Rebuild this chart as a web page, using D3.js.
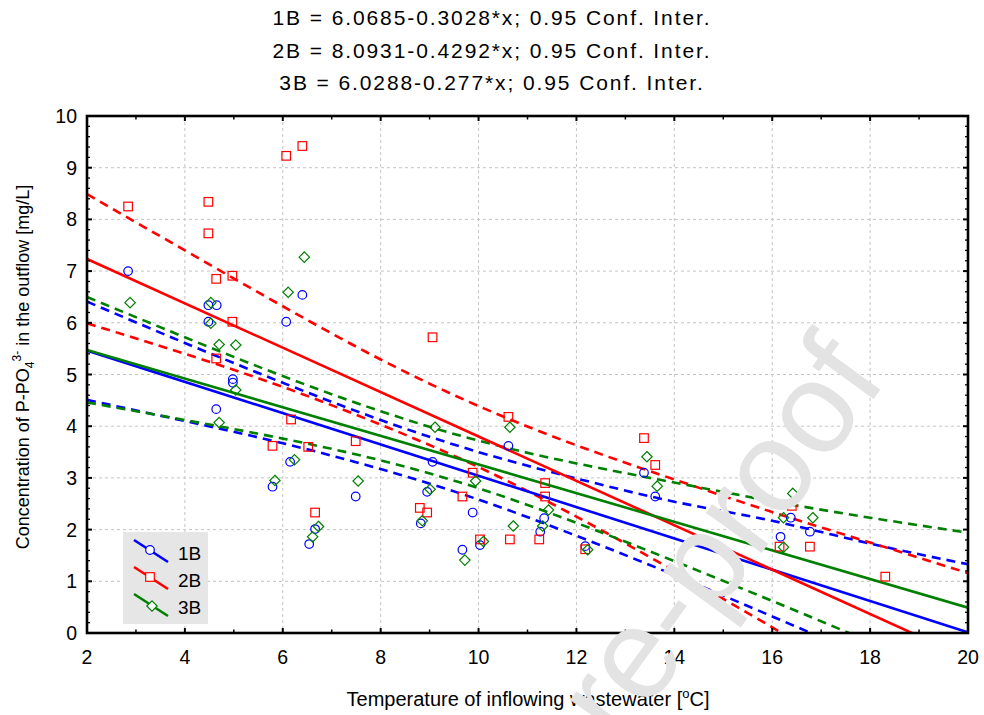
<!DOCTYPE html>
<html><head><meta charset="utf-8">
<script src="https://cdn.jsdelivr.net/npm/d3@7/dist/d3.min.js"></script>
<style>
html,body{margin:0;padding:0;background:#fff;}
svg{display:block;font-family:"Liberation Sans",Arial,sans-serif;}
</style></head>
<body><svg id="c" width="984" height="715"></svg>
<script>
// ---- data ----
const seriesNames = ["1B","2B","3B"];
const seriesColors = ["#0000ff","#ff0000","#008000"];
const intercepts = [6.0685, 8.0931, 6.0288];
const slopes = [-0.3028, -0.4292, -0.277];
const titleLines = [
  "1B = 6.0685-0.3028*x; 0.95 Conf. Inter.",
  "2B = 8.0931-0.4292*x; 0.95 Conf. Inter.",
  "3B = 6.0288-0.277*x; 0.95 Conf. Inter."
];
const xTicks = [2,4,6,8,10,12,14,16,18,20];
const yTicks = [0,1,2,3,4,5,6,7,8,9,10];

const points1B = [[2.84,7.00],[4.48,6.34],[4.65,6.34],[4.48,6.02],[4.98,4.91],[4.98,4.84],[4.64,4.33],[6.07,6.02],[6.40,6.54],[5.79,2.83],[6.54,1.72],[6.15,3.31],[6.66,2.01],[7.49,2.64],[8.82,2.12],[8.95,2.73],[9.06,3.31],[9.67,1.61],[9.88,2.33],[10.03,1.70],[10.61,3.62],[11.26,1.96],[11.34,2.22],[12.18,1.68],[13.38,3.10],[13.61,2.64],[16.17,1.86],[16.38,2.23],[16.77,1.96]];
const points2B = [[2.84,8.25],[4.48,8.34],[4.48,7.73],[4.64,6.85],[4.97,6.91],[6.07,9.23],[6.40,9.42],[4.97,6.02],[4.64,5.31],[6.17,4.13],[5.79,3.62],[6.52,3.60],[9.06,5.72],[7.49,3.71],[9.88,3.10],[10.61,4.18],[6.66,2.33],[8.80,2.42],[8.95,2.33],[9.67,2.64],[10.03,1.81],[10.64,1.81],[11.24,1.81],[11.36,2.90],[11.36,2.64],[12.18,1.62],[13.61,3.25],[13.38,3.77],[16.15,1.67],[16.77,1.67],[18.31,1.09],[16.40,2.46]];
const points3B = [[2.88,6.39],[4.53,6.39],[4.53,5.99],[4.70,5.58],[5.04,5.57],[5.04,4.70],[4.70,4.07],[6.11,6.59],[6.44,7.27],[6.24,3.35],[5.84,2.95],[6.61,1.86],[6.73,2.06],[7.54,2.94],[8.85,2.17],[9.01,2.78],[9.72,1.41],[9.94,2.94],[10.10,1.77],[10.71,2.07],[9.11,3.98],[10.64,3.98],[11.43,2.38],[11.31,2.07],[12.23,1.61],[13.65,2.84],[13.44,3.41],[16.23,2.23],[16.23,1.66],[16.83,2.23],[16.42,2.70]];

const bandX = [2,4,6,8,10,12,14,16,18,20];
const upper1B = [6.41,5.61,4.84,4.12,3.50,2.99,2.54,2.17,1.73,1.33];
const lower1B = [4.51,4.10,3.67,3.17,2.58,1.88,1.12,0.32,-0.49,-1.31];
const upper2B = [8.49,7.40,6.32,5.29,4.39,3.63,2.97,2.34,1.75,1.16];
const lower2B = [5.99,5.40,4.76,4.03,3.21,2.25,1.20,0.11,-1.01,-2.14];
const upper3B = [6.50,5.72,4.97,4.29,3.72,3.28,2.91,2.55,2.23,1.94];
const lower3B = [4.46,4.12,3.76,3.34,2.80,2.13,1.39,0.62,-0.17,-0.96];

const xTitle = "Temperature of inflowing wastewater [";
const watermark = "re-proof";

// ---- layout ----
const L=87, R=968, T=116, B=633;
const svg = d3.select("#c");
const x = d3.scaleLinear().domain([2,20]).range([L,R]);
const y = d3.scaleLinear().domain([0,10]).range([B,T]);

// grid
const g = svg.append("g");
g.selectAll(".gx").data(xTicks.slice(1,-1)).enter().append("line")
  .attr("x1",d=>x(d)).attr("x2",d=>x(d)).attr("y1",T).attr("y2",B)
  .attr("stroke","#c4c4c4").attr("stroke-width",1).attr("stroke-dasharray","3,3");
g.selectAll(".gy").data(yTicks.slice(1,-1)).enter().append("line")
  .attr("y1",d=>y(d)).attr("y2",d=>y(d)).attr("x1",L).attr("x2",R)
  .attr("stroke","#c4c4c4").attr("stroke-width",1).attr("stroke-dasharray","3,3");

svg.append("clipPath").attr("id","clip").append("rect")
  .attr("x",L).attr("y",T).attr("width",R-L).attr("height",B-T);
const plot = svg.append("g").attr("clip-path","url(#clip)");

const bands = [[upper1B,lower1B],[upper2B,lower2B],[upper3B,lower3B]];
const bandLine = d3.line().x(d=>x(d[0])).y(d=>y(d[1])).curve(d3.curveNatural);

seriesNames.forEach((s,i)=>{
  bands[i].forEach(arr=>{
    plot.append("path").datum(bandX.map((bx,j)=>[bx,arr[j]]))
      .attr("d",bandLine).attr("fill","none").attr("stroke",seriesColors[i])
      .attr("stroke-width",2.6).attr("stroke-dasharray","9,6");
  });
});
seriesNames.forEach((s,i)=>{
  const f = xv => intercepts[i] + slopes[i]*xv;
  plot.append("line").attr("x1",x(2)).attr("y1",y(f(2))).attr("x2",x(20)).attr("y2",y(f(20)))
    .attr("stroke",seriesColors[i]).attr("stroke-width",2.6);
});

function marker(sel, i){
  if(i===0) return sel.append("circle").attr("r",4.3);
  if(i===1) return sel.append("rect").attr("x",-4.3).attr("y",-4.3).attr("width",8.6).attr("height",8.6);
  return sel.append("path").attr("d","M0,-5.2L5.2,0L0,5.2L-5.2,0Z");
}
const pts = [points1B, points2B, points3B];
pts.forEach((arr,i)=>{
  arr.forEach(p=>{
    const m = plot.append("g").attr("transform",`translate(${x(p[0])},${y(p[1])})`);
    marker(m,i).attr("fill","none").attr("stroke",seriesColors[i]).attr("stroke-width",1.2);
  });
});

// frame and ticks
const axG = svg.append("g");
axG.append("rect").attr("x",L).attr("y",T).attr("width",R-L).attr("height",B-T)
  .attr("fill","none").attr("stroke","#000").attr("stroke-width",2.6);
const xMinor = d3.range(3,20,2);
const yMinor = d3.range(0,10.001,0.2).filter(v=>Math.abs(v-Math.round(v))>1e-6);
[[B,-1],[T,1]].forEach(([yy,dir])=>{
  xTicks.forEach(v=>axG.append("line").attr("x1",x(v)).attr("x2",x(v)).attr("y1",yy).attr("y2",yy+dir*5).attr("stroke","#000").attr("stroke-width",2));
  xMinor.forEach(v=>axG.append("line").attr("x1",x(v)).attr("x2",x(v)).attr("y1",yy).attr("y2",yy+dir*3.5).attr("stroke","#000").attr("stroke-width",1.5));
});
[[L,1],[R,-1]].forEach(([xx,dir])=>{
  yTicks.forEach(v=>axG.append("line").attr("y1",y(v)).attr("y2",y(v)).attr("x1",xx).attr("x2",xx+dir*5).attr("stroke","#000").attr("stroke-width",2));
  yMinor.forEach(v=>axG.append("line").attr("y1",y(v)).attr("y2",y(v)).attr("x1",xx).attr("x2",xx+dir*3).attr("stroke","#000").attr("stroke-width",1.3));
});

// tick labels
axG.selectAll(".xl").data(xTicks).enter().append("text")
  .attr("x",d=>x(d)).attr("y",664).attr("text-anchor","middle")
  .attr("font-size",19.5).text(d=>d);
axG.selectAll(".yl").data(yTicks).enter().append("text")
  .attr("x",77).attr("y",d=>y(d)+7).attr("text-anchor","end")
  .attr("font-size",19.5).text(d=>d);

// title
svg.selectAll(".tt").data(titleLines).enter().append("text")
  .attr("x",492).attr("y",(d,i)=>25+i*32.5).attr("text-anchor","middle")
  .attr("font-size",21).attr("letter-spacing",1.9).text(d=>d);

// axis titles
const xt = svg.append("text").attr("x",528).attr("y",706).attr("text-anchor","middle").attr("font-size",20);
xt.append("tspan").text(xTitle);
xt.append("tspan").attr("dy",-8).attr("font-size",13).text("o");
xt.append("tspan").attr("dy",8).text("C]");

const yt = svg.append("text").attr("transform","translate(29,367) rotate(-90)").attr("text-anchor","middle").attr("font-size",18);
yt.append("tspan").text("Concentration of P-PO");
yt.append("tspan").attr("dy",5).attr("font-size",12).text("4");
yt.append("tspan").attr("dy",-13).attr("font-size",12).text("3-");
yt.append("tspan").attr("dy",8).text(" in the outflow [mg/L]");

// legend
const lg = svg.append("g");
lg.append("rect").attr("x",123).attr("y",532).attr("width",85).attr("height",92).attr("fill","#e6e6e6");
seriesNames.forEach((s,i)=>{
  const yy = 540 + i*27;
  lg.append("line").attr("x1",134).attr("y1",yy).attr("x2",168).attr("y2",yy+22)
    .attr("stroke",seriesColors[i]).attr("stroke-width",2.6);
  const m = lg.append("g").attr("transform",`translate(${150+(i===2?2:0)},${yy+10+(i===2?2:0)})`);
  marker(m,i).attr("fill","#fff").attr("stroke",seriesColors[i]).attr("stroke-width",1.2);
  lg.append("text").attr("x",178).attr("y",yy+20).attr("font-size",19).text(s);
});

// watermark
svg.append("text").attr("transform","translate(888,379) rotate(-54)")
  .attr("text-anchor","end").attr("font-size",130).attr("fill","#e3e3e3")
  .text(watermark);
</script></body></html>
